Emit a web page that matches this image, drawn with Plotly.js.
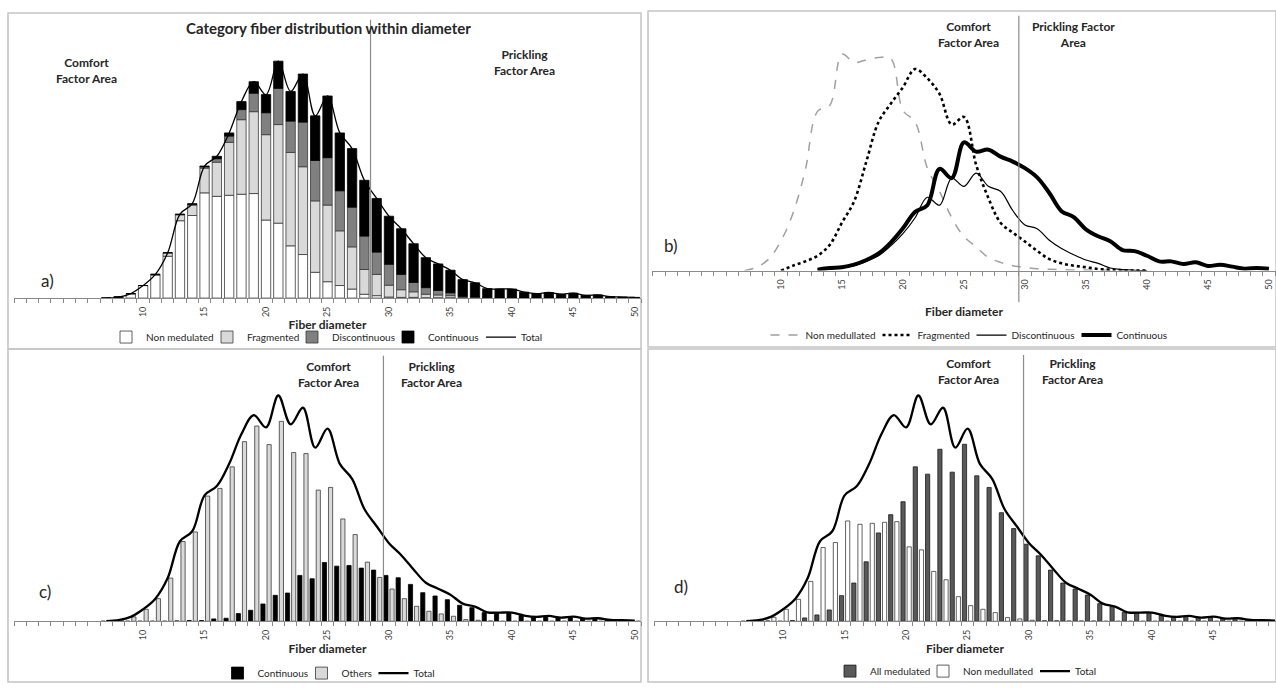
<!DOCTYPE html>
<html>
<head>
<meta charset="utf-8">
<script src="https://cdn.plot.ly/plotly-3.0.1.min.js"></script>
<style>
html,body{margin:0;padding:0;background:#fff;}
#chart{width:1276px;height:688px;}
</style>
</head>
<body>
<div id="chart"></div>
<script>
// ---------------- DATA ----------------
// fiber diameter categories (micrometres)
const diameters = [7,8,9,10,11,12,13,14,15,16,17,18,19,20,21,22,23,24,25,26,27,28,29,30,31,32,33,34,35,36,37,38,39,40,41,42,43,44,45,46,47,48,49,50];

// fiber counts per category (panels a, c, d)
const nonMedullated = [0,3,12,36,66,120,222,237,302,292,295,298,300,224,215,150,125,74,47,36,26,11,7,3,2,2,1,1,1,0,0,0,0,0,0,0,0,0,0,0,0,0,0,0];
const fragmented    = [0,0,1,0,2,10,17,30,71,98,152,214,235,245,283,268,252,205,220,157,121,71,61,34,22,16,10,8,6,2,1,0,0,0,0,0,0,0,0,0,0,0,0,0];
const discontinuous = [0,0,0,0,0,0,1,2,4,10,18,29,53,63,104,90,128,116,136,115,114,96,64,60,44,27,19,13,8,3,2,1,0,0,0,0,0,0,0,0,0,0,0,0];
const continuous    = [0,0,0,0,0,0,1,2,2,7,9,23,33,52,78,85,138,128,177,166,168,160,154,138,131,111,86,76,65,48,41,26,26,26,17,13,16,11,14,8,9,4,3,2];

// panel b: distribution curves of each category
const nonMedB  = [0,10,35,90,175,305,482,500,655,630,638,645,642,485,450,310,240,160,103,72,40,25,15,10,6,4,3,2,2,1,1,1,0,0,null,null,null,null,null,null,null,null,null,null];
const fragB    = [null,null,null,0,15,28,45,78,145,210,330,450,505,555,610,582,535,442,465,320,220,145,115,88,60,35,22,15,10,5,3,1,0,0,null,null,null,null,null,null,null,null,null,null];
const discB    = [null,null,null,null,null,null,3,5,10,15,28,45,75,112,160,222,198,280,255,295,255,240,182,138,127,92,67,48,32,22,8,3,1,0,null,null,null,null,null,null,null,null,null,null];
const contB    = [null,null,null,null,null,null,3,8,10,18,32,52,85,128,178,198,308,280,388,360,366,345,330,310,282,235,180,162,125,104,89,62,59,45,28,28,20,25,14,18,12,6,8,6];

// axis tick labels
const tickValues = [10,15,20,25,30,35,40,45,50];
const tickLabels = ["10","15","20","25","30","35","40","45","50"];

// ---------------- DERIVED ----------------
const total   = diameters.map((d,i)=>nonMedullated[i]+fragmented[i]+discontinuous[i]+continuous[i]);
const others  = diameters.map((d,i)=>nonMedullated[i]+fragmented[i]+discontinuous[i]);
const allMed  = diameters.map((d,i)=>fragmented[i]+discontinuous[i]+continuous[i]);
const baseFrag = nonMedullated.slice();
const baseDisc = diameters.map((d,i)=>nonMedullated[i]+fragmented[i]);
const baseCont = others.slice();

// ---------------- LAYOUT HELPERS ----------------
const W = 1276, H = 688;
const fx = p => p / W;
const fy = p => 1 - p / H;
const FONT = 'Lato, "Open Sans", "DejaVu Sans", sans-serif';
const TXT = '#262626';
const LEG_SIZE = 10;

const cnv = document.createElement('canvas').getContext('2d');
cnv.font = LEG_SIZE + 'px Lato';
const textW = t => cnv.measureText(t).width;

function xAxis(domain, range, anchor, standoff) {
  return {
    domain: domain, range: range, anchor: anchor,
    tickmode: 'array', tickvals: tickValues, ticktext: tickLabels,
    tickangle: -90, ticks: '', ticklabelstandoff: 4,
    tickfont: {family: FONT, size: 9, color: '#404040'},
    minor: {tickmode: 'linear', tick0: 0.5, dtick: 1, ticks: 'outside', ticklen: 4, tickwidth: 1, tickcolor: '#8a8a8a', showgrid: false},
    showline: true, linecolor: '#8a8a8a', linewidth: 1,
    showgrid: false, zeroline: false, fixedrange: true,
    title: {text: 'Fiber diameter', standoff: standoff, font: {family: FONT, size: 12, color: TXT, weight: 'bold'}}
  };
}
function yAxis(domain, range) {
  return {domain: domain, range: range, visible: false, showgrid: false, zeroline: false, fixedrange: true};
}
function legendAt(cx, cy) {
  return {
    orientation: 'h', x: fx(cx), y: fy(cy), xanchor: 'center', yanchor: 'middle',
    xref: 'paper', yref: 'paper', bgcolor: 'rgba(0,0,0,0)',
    font: {family: FONT, size: LEG_SIZE, color: TXT}, itemwidth: 30, tracegroupgap: 0,
    itemclick: false, itemdoubleclick: false
  };
}
function note(text, cx, cy, size, bold) {
  return {text: text, x: fx(cx), y: fy(cy), xref: 'paper', yref: 'paper',
    xanchor: 'center', yanchor: 'middle', showarrow: false, align: 'center',
    font: {family: FONT, size: size, color: TXT, weight: bold ? 'bold' : 'normal'}};
}
function vline(xa, xv, yTop, yBot) {
  return {type: 'line', xref: xa, yref: 'paper', x0: xv, x1: xv, y0: fy(yBot), y1: fy(yTop),
    line: {color: '#8c8c8c', width: 1.2}};
}
function frame(x0, y0, x1, y1) {
  return {type: 'rect', xref: 'paper', yref: 'paper', x0: fx(x0), x1: fx(x1), y0: fy(y1), y1: fy(y0),
    line: {color: '#c4c4c4', width: 1.5}, fillcolor: 'rgba(0,0,0,0)', layer: 'below'};
}

// ---------------- TRACES ----------------
const traces = [];
// panel a: stacked bars
const aW = 0.76;
traces.push({type:'bar', x:diameters, y:nonMedullated, base:0, width:aW, xaxis:'x', yaxis:'y', name:'Non medulated', legend:'legend',
  marker:{color:'#ffffff', line:{color:'#3a3a3a', width:0.8}}});
traces.push({type:'bar', x:diameters, y:fragmented, base:baseFrag, width:aW, xaxis:'x', yaxis:'y', name:'Fragmented', legend:'legend',
  marker:{color:'#d9d9d9', line:{color:'#3a3a3a', width:0.8}}});
traces.push({type:'bar', x:diameters, y:discontinuous, base:baseDisc, width:aW, xaxis:'x', yaxis:'y', name:'Discontinuous', legend:'legend',
  marker:{color:'#808080', line:{color:'#3a3a3a', width:0.8}}});
traces.push({type:'bar', x:diameters, y:continuous, base:baseCont, width:aW, xaxis:'x', yaxis:'y', name:'Continuous', legend:'legend',
  marker:{color:'#000000', line:{color:'#000000', width:0.8}}});
traces.push({type:'scatter', mode:'lines', x:diameters, y:total, xaxis:'x', yaxis:'y', name:'Total', legend:'legend',
  line:{color:'#000', width:1.3, shape:'spline', smoothing:1}});

// panel b: smoothed lines
traces.push({type:'scatter', mode:'lines', x:diameters, y:nonMedB, xaxis:'x2', yaxis:'y2', name:'Non medullated', legend:'legend2',
  line:{color:'#a0a0a0', width:1.5, dash:'dash', shape:'spline', smoothing:1}});
traces.push({type:'scatter', mode:'lines', x:diameters, y:fragB, xaxis:'x2', yaxis:'y2', name:'Fragmented', legend:'legend2',
  line:{color:'#000', width:2.6, dash:'dot', shape:'spline', smoothing:1}});
traces.push({type:'scatter', mode:'lines', x:diameters, y:discB, xaxis:'x2', yaxis:'y2', name:'Discontinuous', legend:'legend2',
  line:{color:'#000', width:1.2, shape:'spline', smoothing:1}});
traces.push({type:'scatter', mode:'lines', x:diameters, y:contB, xaxis:'x2', yaxis:'y2', name:'Continuous', legend:'legend2',
  line:{color:'#000', width:4, shape:'spline', smoothing:1}});

// panel c: clustered bars
const gW = 0.34;
traces.push({type:'bar', x:diameters, y:continuous, width:gW, offset:-0.42, xaxis:'x3', yaxis:'y3', name:'Continuous', legend:'legend3',
  marker:{color:'#000', line:{color:'#000', width:0.8}}});
traces.push({type:'bar', x:diameters, y:others, width:gW, offset:0.08, xaxis:'x3', yaxis:'y3', name:'Others', legend:'legend3',
  marker:{color:'#d9d9d9', line:{color:'#3a3a3a', width:0.8}}});
traces.push({type:'scatter', mode:'lines', x:diameters, y:total, xaxis:'x3', yaxis:'y3', name:'Total', legend:'legend3',
  line:{color:'#000', width:2.3, shape:'spline', smoothing:1}});

// panel d: clustered bars
traces.push({type:'bar', x:diameters, y:allMed, width:gW, offset:-0.42, xaxis:'x4', yaxis:'y4', name:'All medulated', legend:'legend4',
  marker:{color:'#595959', line:{color:'#1a1a1a', width:0.8}}});
traces.push({type:'bar', x:diameters, y:nonMedullated, width:gW, offset:0.08, xaxis:'x4', yaxis:'y4', name:'Non medullated', legend:'legend4',
  marker:{color:'#ffffff', line:{color:'#3a3a3a', width:0.8}}});
traces.push({type:'scatter', mode:'lines', x:diameters, y:total, xaxis:'x4', yaxis:'y4', name:'Total', legend:'legend4',
  line:{color:'#000', width:2.3, shape:'spline', smoothing:1}});

// tighten legend entries: width per entry so that next symbol sits close to the previous text
['legend','legend2','legend3','legend4'].forEach(lg => {
  const items = traces.filter(t => t.legend === lg);
  items.forEach((t, i) => {
    const tw = textW(t.name);
    const next = items[i + 1];
    if (!next) { t.legendwidth = Math.ceil(tw) + 2; return; }
    // bar swatch starts 14px into its entry, line swatch 5px
    t.legendwidth = Math.max(10, Math.round(tw - (next.type === 'bar' ? 12 : 3)));
  });
});

// ---------------- LAYOUT ----------------
const layout = {
  width: W, height: H, margin: {l:0, r:0, t:0, b:0},
  paper_bgcolor: '#fff', plot_bgcolor: 'rgba(0,0,0,0)',
  barmode: 'overlay', showlegend: true,
  font: {family: FONT, color: TXT},
  xaxis:  xAxis([fx(14), fx(641)], [-0.5, 50.5], 'y', 4),
  yaxis:  yAxis([fy(300.7), fy(40)], [0, 741.7]),
  xaxis2: xAxis([fx(652), 1], [-0.57, 50.58], 'y2', 18),
  yaxis2: yAxis([fy(273), fy(16)], [0, 771]),
  xaxis3: xAxis([fx(14), fx(641)], [-0.5, 50.5], 'y3', 5),
  yaxis3: yAxis([fy(626.7), fy(380)], [0, 736.6]),
  xaxis4: xAxis([fx(654), 1], [-0.5, 50.08], 'y4', 5),
  yaxis4: yAxis([fy(626.7), fy(380)], [0, 736.6]),
  legend:  legendAt(328, 340),
  legend2: legendAt(970, 338),
  legend3: legendAt(330, 679),
  legend4: legendAt(967, 677),
  annotations: [
    note('Category fiber distribution within diameter', 328, 28, 15, true),
    note('Comfort<br>Factor Area', 86, 71, 12, true),
    note('Prickling<br>Factor Area', 524, 63, 12, true),
    note('a)', 47, 283, 17, false),
    note('Comfort<br>Factor Area', 968.6, 35, 12, true),
    note('Prickling Factor<br>Area', 1073.5, 35, 12, true),
    note('b)', 671, 248, 17, false),
    note('Comfort<br>Factor Area', 328, 377.5, 12, true),
    note('Prickling<br>Factor Area', 431, 377.5, 12, true),
    note('c)', 45, 597, 17, false),
    note('Comfort<br>Factor Area', 968.6, 375, 12, true),
    note('Prickling<br>Factor Area', 1072.6, 375, 12, true),
    note('d)', 681, 592, 17, false)
  ],
  shapes: [
    frame(8, 13, 641, 352),
    frame(648, 11, 1276, 350),
    frame(8, 352, 641, 688),
    frame(648, 352, 1276, 688),
    vline('x', 28.5, 20, 300.7),
    vline('x2', 29.5, 16, 305),
    vline('x3', 29.55, 359, 627),
    vline('x4', 29.55, 358, 627)
  ]
};

Plotly.newPlot('chart', traces, layout, {displayModeBar: false, staticPlot: true});
</script>
</body>
</html>
